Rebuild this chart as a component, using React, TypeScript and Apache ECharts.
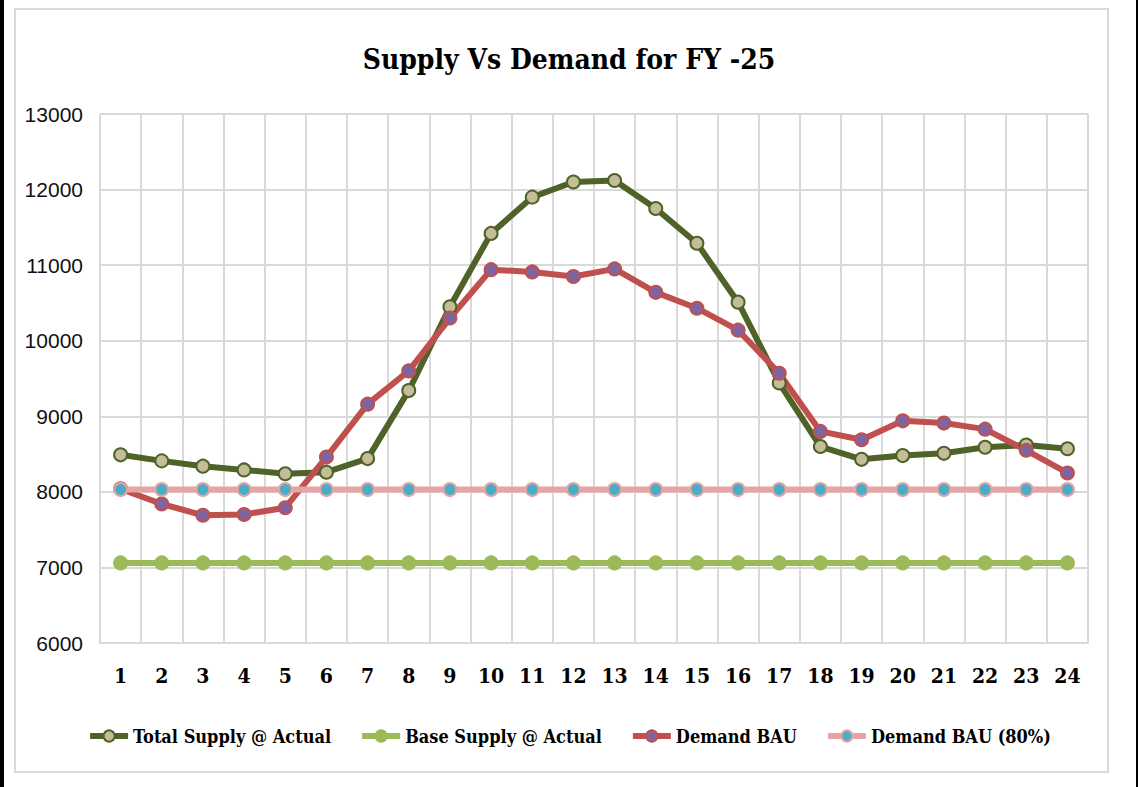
import React, { useEffect, useRef } from "react";
import * as echarts from "echarts";

const categories = ["1","2","3","4","5","6","7","8","9","10","11","12","13","14","15","16","17","18","19","20","21","22","23","24"];
const totalSupply = [8490, 8410, 8340, 8290, 8240, 8260, 8440, 9340, 10450, 11420, 11900, 12100, 12120, 11750, 11290, 10510, 9440, 8600, 8430, 8480, 8510, 8590, 8620, 8570];
const baseSupply = [7060, 7060, 7060, 7060, 7060, 7060, 7060, 7060, 7060, 7060, 7060, 7060, 7060, 7060, 7060, 7060, 7060, 7060, 7060, 7060, 7060, 7060, 7060, 7060];
const demandBAU = [8040, 7840, 7690, 7700, 7790, 8460, 9160, 9600, 10300, 10940, 10910, 10850, 10950, 10640, 10430, 10140, 9570, 8800, 8690, 8940, 8910, 8830, 8550, 8250];
const demandBAU80 = [8030, 8030, 8030, 8030, 8030, 8030, 8030, 8030, 8030, 8030, 8030, 8030, 8030, 8030, 8030, 8030, 8030, 8030, 8030, 8030, 8030, 8030, 8030, 8030];
const seriesNames = ["Total Supply @ Actual", "Base Supply @ Actual", "Demand BAU", "Demand BAU (80%)"];

const SERIF = '"DejaVu Serif Condensed", "DejaVu Serif", serif';

export default function App() {
  const ref = useRef<HTMLDivElement>(null);
  useEffect(() => {
    if (!ref.current) return;
    const chart = echarts.init(ref.current, null, { renderer: "svg" });
    const mk = (name: string, data: number[], line: string, fill: string, border: string) => ({
      name,
      type: "line",
      data,
      symbol: "circle",
      symbolSize: 13,
      showAllSymbol: true,
      lineStyle: { color: line, width: 6 },
      itemStyle: { color: fill, borderColor: border, borderWidth: 2 },
      emphasis: { disabled: true },
    });
    chart.setOption({
      animation: false,
      backgroundColor: "#ffffff",
      title: {
        text: "Supply Vs Demand for FY -25",
        left: "center",
        top: 40,
        textStyle: { fontFamily: SERIF, fontWeight: "bold", fontSize: 28, color: "#000" },
      },
      grid: { left: 100, right: 50, top: 114, bottom: 144 },
      xAxis: {
        type: "category",
        data: categories,
        boundaryGap: true,
        axisLine: { show: true, lineStyle: { color: "#D9D9D9", width: 2 } },
        axisTick: { show: false },
        splitLine: { show: true, lineStyle: { color: "#D9D9D9", width: 2 } },
        axisLabel: { fontFamily: SERIF, fontWeight: "bold", fontSize: 21, color: "#000", margin: 22 },
      },
      yAxis: {
        type: "value",
        min: 6000,
        max: 13000,
        interval: 1000,
        axisLine: { show: false },
        axisTick: { show: false },
        splitLine: { show: true, lineStyle: { color: "#D9D9D9", width: 2 } },
        axisLabel: {
          fontFamily: '"Liberation Sans", Arial, sans-serif',
          fontSize: 21,
          color: "#111",
          margin: 17,
          formatter: (v: number) => String(v),
        },
      },
      legend: {
        data: seriesNames,
        left: "center",
        top: 722,
        itemWidth: 38,
        itemHeight: 14,
        itemGap: 28,
        lineStyle: { width: 6 },
        textStyle: { fontFamily: SERIF, fontWeight: "bold", fontSize: 18, color: "#000" },
      },
      graphic: [
        { type: "rect", shape: { x: 15, y: 9, width: 1093, height: 763 }, style: { fill: "none", stroke: "#D9D9D9", lineWidth: 2 }, z: 100 },
        { type: "rect", shape: { x: 0, y: 0, width: 4, height: 787 }, style: { fill: "#000" }, z: 100 },
        { type: "rect", shape: { x: 1136, y: 0, width: 2, height: 787 }, style: { fill: "#000" }, z: 100 },
      ],
      series: [
        mk(seriesNames[0], totalSupply, "#4F6228", "#C4BD97", "#4F6228"),
        mk(seriesNames[1], baseSupply, "#9BBB59", "#9BBB59", "#9BBB59"),
        mk(seriesNames[2], demandBAU, "#C0504D", "#8064A2", "#C0504D"),
        mk(seriesNames[3], demandBAU80, "#E6A5A4", "#4BACC6", "#E6A5A4"),
      ],
    });
    return () => chart.dispose();
  }, []);
  return (
    <div
      ref={ref}
      style={{ position: "absolute", left: 0, top: 0, width: 1138, height: 787 }}
    />
  );
}
